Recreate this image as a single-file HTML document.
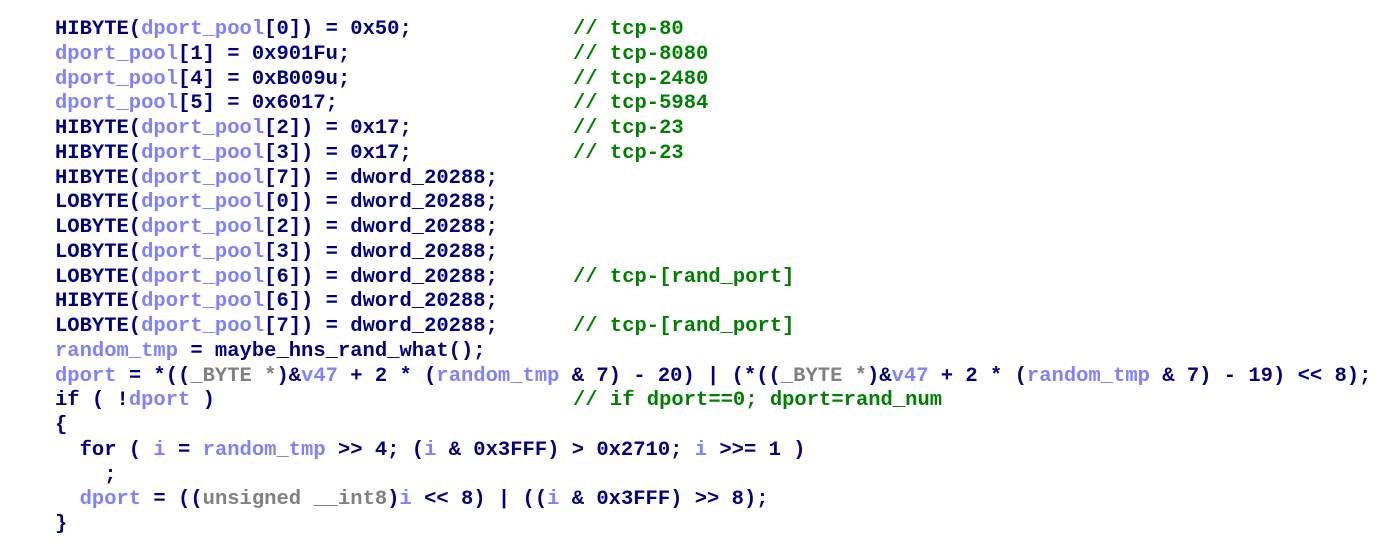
<!DOCTYPE html>
<html><head><meta charset="utf-8"><style>
html,body{margin:0;padding:0;background:#fff;width:1392px;height:553px;overflow:hidden}
#p{position:absolute;left:55px;top:18px;margin:0;font-family:"Liberation Mono",monospace;font-weight:bold;font-size:20.5px;line-height:24.75px;color:#000080}
#p div{position:relative;height:24.75px;white-space:pre}
.v{color:#8080ff}.g{color:#808080}.c{color:#008000;position:absolute;left:518px;top:0}
</style></head><body><div id="p">
<div>HIBYTE(<span class="v">dport_pool</span>[0]) = 0x50;<span class="c">// tcp-80</span></div>
<div><span class="v">dport_pool</span>[1] = 0x901Fu;<span class="c">// tcp-8080</span></div>
<div><span class="v">dport_pool</span>[4] = 0xB009u;<span class="c">// tcp-2480</span></div>
<div><span class="v">dport_pool</span>[5] = 0x6017;<span class="c">// tcp-5984</span></div>
<div>HIBYTE(<span class="v">dport_pool</span>[2]) = 0x17;<span class="c">// tcp-23</span></div>
<div>HIBYTE(<span class="v">dport_pool</span>[3]) = 0x17;<span class="c">// tcp-23</span></div>
<div>HIBYTE(<span class="v">dport_pool</span>[7]) = dword_20288;</div>
<div>LOBYTE(<span class="v">dport_pool</span>[0]) = dword_20288;</div>
<div>LOBYTE(<span class="v">dport_pool</span>[2]) = dword_20288;</div>
<div>LOBYTE(<span class="v">dport_pool</span>[3]) = dword_20288;</div>
<div>LOBYTE(<span class="v">dport_pool</span>[6]) = dword_20288;<span class="c">// tcp-[rand_port]</span></div>
<div>HIBYTE(<span class="v">dport_pool</span>[6]) = dword_20288;</div>
<div>LOBYTE(<span class="v">dport_pool</span>[7]) = dword_20288;<span class="c">// tcp-[rand_port]</span></div>
<div><span class="v">random_tmp</span> = maybe_hns_rand_what();</div>
<div><span class="v">dport</span> = *((<span class="g">_BYTE *</span>)&amp;<span class="v">v47</span> + 2 * (<span class="v">random_tmp</span> &amp; 7) - 20) | (*((<span class="g">_BYTE *</span>)&amp;<span class="v">v47</span> + 2 * (<span class="v">random_tmp</span> &amp; 7) - 19) &lt;&lt; 8);</div>
<div>if ( !<span class="v">dport</span> )<span class="c">// if dport==0; dport=rand_num</span></div>
<div>{</div>
<div>  for ( <span class="v">i</span> = <span class="v">random_tmp</span> &gt;&gt; 4; (<span class="v">i</span> &amp; 0x3FFF) &gt; 0x2710; <span class="v">i</span> &gt;&gt;= 1 )</div>
<div>    ;</div>
<div>  <span class="v">dport</span> = ((<span class="g">unsigned __int8</span>)<span class="v">i</span> &lt;&lt; 8) | ((<span class="v">i</span> &amp; 0x3FFF) &gt;&gt; 8);</div>
<div>}</div>
</div></body></html>
